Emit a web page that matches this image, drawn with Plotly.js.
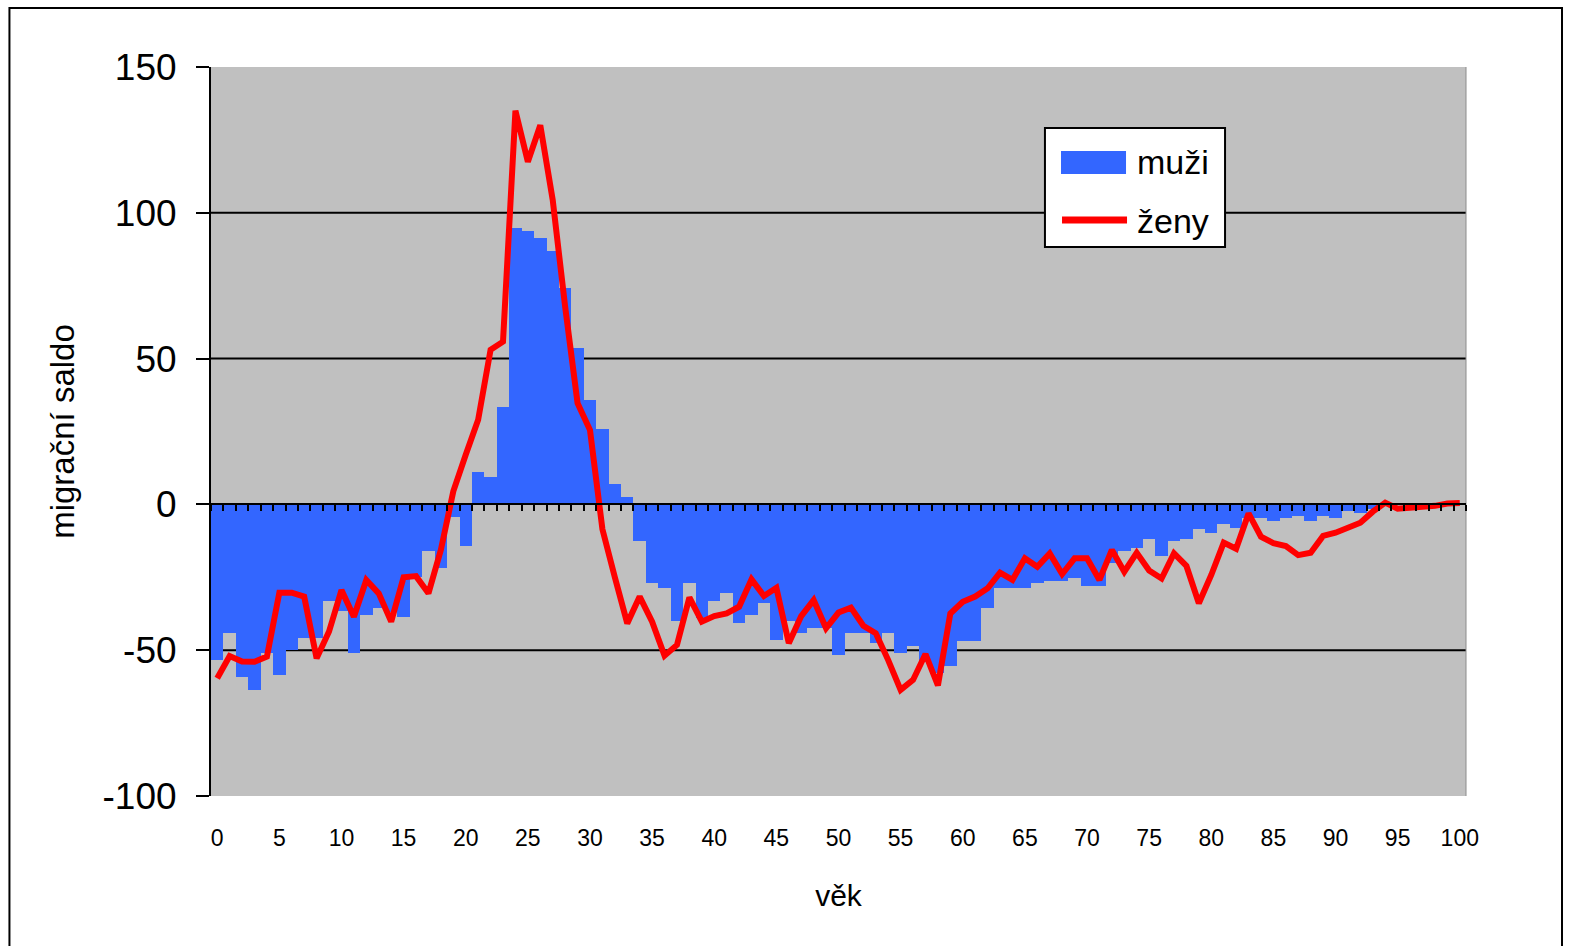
<!DOCTYPE html>
<html>
<head>
<meta charset="utf-8">
<script src="https://cdn.plot.ly/plotly-3.0.1.min.js"></script>
<style>
html,body{margin:0;padding:0;background:#fff;overflow:hidden;}
#chart{width:1571px;height:946px;}
</style>
</head>
<body>
<div id="chart"></div>
<script>
// ages 0..100
const ages = Array.from({length: 101}, (_, i) => i);

// muži (bars)
const muzi = [
  -53.4, -44.2, -59.3, -63.5, -51.1, -58.5, -49.9, -45.9, -45.9, -33.0,
  -36.4, -51.1, -37.9, -35.6, -37.0, -38.7, -24.8, -16.0, -21.9, -4.2,
  -14.2, 11.0, 9.5, 33.3, 94.7, 93.8, 91.3, 87.0, 74.1, 53.7,
  35.8, 25.7, 6.9, 2.6, -12.6, -27.1, -28.8, -39.9, -27.1, -39.0,
  -33.0, -30.5, -40.6, -37.9, -33.9, -46.5, -40.0, -44.0, -42.5, -42.5,
  -51.6, -44.0, -44.0, -47.4, -44.2, -50.8, -48.5, -54.0, -57.7, -55.4,
  -46.7, -46.7, -35.6, -28.8, -28.8, -28.8, -27.1, -26.2, -26.2, -25.4,
  -27.9, -27.9, -20.0, -16.1, -15.1, -11.9, -17.7, -12.6, -11.9, -8.4,
  -9.9, -6.8, -8.2, -4.8, -4.8, -5.6, -4.8, -4.0, -5.6, -4.0,
  -4.8, -2.3, -3.0, -1.5, -0.5, -0.3, 0, 0, 0, 0,
  0
];

// ženy (line)
const zeny = [
  -59.6, -52.0, -53.9, -54.0, -52.2, -30.3, -30.3, -31.6, -52.8, -43.6,
  -29.4, -38.5, -25.9, -30.5, -40.2, -25.0, -24.6, -30.5, -15.6, 4.5,
  17.0, 29.0, 53.0, 55.8, 135.0, 117.5, 130.0, 104.4, 67.8, 34.7,
  25.5, -8.5, -25.0, -40.8, -31.6, -40.2, -51.9, -48.2, -31.9, -40.2,
  -38.3, -37.4, -35.1, -25.7, -31.4, -28.6, -47.6, -38.3, -32.8, -42.5,
  -37.1, -35.4, -41.6, -44.2, -53.4, -63.6, -60.2, -51.3, -62.1, -37.4,
  -33.4, -31.6, -28.8, -23.4, -25.9, -18.5, -21.4, -16.8, -23.9, -18.5,
  -18.5, -25.9, -15.6, -23.1, -16.6, -22.7, -25.4, -16.8, -21.1, -33.9,
  -24.2, -13.1, -15.2, -3.1, -11.1, -13.3, -14.3, -17.4, -16.6, -10.8,
  -9.7, -8.0, -6.3, -2.5, 0.6, -1.5, -1.3, -0.8, -0.5, 0.3,
  0.5
];

const xTickVals = [0,5,10,15,20,25,30,35,40,45,50,55,60,65,70,75,80,85,90,95,100];
const xTickText = xTickVals.map(String);
const yTickVals = [-100,-50,0,50,100,150];
const yTickText = yTickVals.map(String);
const gridVals = [-50, 50, 100];
const seriesNames = ['muži', 'ženy'];

const FONT = 'Liberation Sans, Arial, sans-serif';

const traces = [
  {
    type: 'bar', x: ages, y: muzi, name: seriesNames[0],
    width: 1, marker: {color: '#3366FF', line: {width: 0}},
    showlegend: false, hoverinfo: 'x+y'
  },
  {
    type: 'scatter', mode: 'lines', x: ages, y: zeny, name: seriesNames[1],
    line: {color: '#FF0000', width: 6},
    showlegend: false
  },
  {
    // carrier for the labelled bottom axis (draws nothing)
    type: 'scatter', mode: 'markers', x: xTickVals, y: xTickVals.map(() => null),
    xaxis: 'x2', yaxis: 'y', marker: {opacity: 0}, showlegend: false, hoverinfo: 'skip'
  }
];

const shapes = gridVals.map(v => ({
  type: 'line', xref: 'paper', yref: 'y', x0: 0, x1: 1, y0: v, y1: v,
  line: {color: '#000', width: 2}, layer: 'below'
}));
shapes.push({type: 'line', xref: 'paper', yref: 'paper', x0: 1, x1: 1, y0: 0, y1: 1,
  line: {color: '#8c8c8c', width: 1}, layer: 'below'});
shapes.push({type: 'rect', xref: 'paper', yref: 'paper',
  x0: -0.1606, x1: 1.0765, y0: -0.215, y1: 1.0810,
  line: {color: '#000', width: 2}, fillcolor: 'rgba(0,0,0,0)'});
shapes.push({type: 'rect', xref: 'paper', yref: 'paper',
  x0: 0.6645, x1: 0.8080, y0: 0.7531, y1: 0.9163,
  line: {color: '#000', width: 2}, fillcolor: '#ffffff'});
shapes.push({type: 'rect', xref: 'paper', yref: 'paper',
  x0: 0.6773, x1: 0.7291, y0: 0.8532, y1: 0.8848,
  line: {width: 0}, fillcolor: '#3366FF'});
shapes.push({type: 'line', xref: 'paper', yref: 'paper',
  x0: 0.6781, x1: 0.7299, y0: 0.7900, y1: 0.7900,
  line: {color: '#FF0000', width: 7}});

const annotations = [
  {xref: 'paper', yref: 'paper', x: 0.7370, y: 0.8690, xanchor: 'left', yanchor: 'middle',
   text: seriesNames[0], showarrow: false, borderpad: 0,
   font: {family: FONT, size: 34, color: '#000'}},
  {xref: 'paper', yref: 'paper', x: 0.7370, y: 0.7885, xanchor: 'left', yanchor: 'middle',
   text: seriesNames[1], showarrow: false, borderpad: 0,
   font: {family: FONT, size: 34, color: '#000'}}
];

const layout = {
  width: 1571, height: 946,
  margin: {l: 211, r: 105, t: 67, b: 150, pad: 0},
  paper_bgcolor: '#ffffff',
  plot_bgcolor: '#C0C0C0',
  bargap: 0,
  font: {family: FONT, color: '#000'},
  xaxis: {
    type: 'linear', range: [-0.5, 100.5],
    anchor: 'free', position: 0.4,
    showline: true, linecolor: '#000', linewidth: 2,
    ticks: 'outside', tickmode: 'linear', tick0: 0.5, dtick: 1,
    ticklen: 6, tickwidth: 2, tickcolor: '#000',
    showticklabels: false, showgrid: false, zeroline: false, fixedrange: true
  },
  xaxis2: {
    overlaying: 'x', anchor: 'y', side: 'bottom',
    type: 'linear', range: [-0.5, 100.5],
    tickmode: 'array', tickvals: xTickVals, ticktext: xTickText,
    ticks: 'outside', ticklen: 21, tickcolor: 'rgba(0,0,0,0)',
    showline: false, showgrid: false, zeroline: false,
    tickfont: {family: FONT, size: 23, color: '#000'},
    title: {text: 'věk', font: {family: FONT, size: 30, color: '#000'}, standoff: 35}
  },
  yaxis: {
    range: [-100, 150],
    tickmode: 'array', tickvals: yTickVals, ticktext: yTickText,
    ticks: 'outside', ticklen: 13, tickwidth: 2, tickcolor: '#000',
    ticklabelstandoff: 12,
    showline: true, linecolor: '#000', linewidth: 2,
    showgrid: false, zeroline: false,
    tickfont: {family: FONT, size: 37, color: '#000'},
    title: {text: 'migrační saldo', font: {family: FONT, size: 33, color: '#000'}, standoff: 18}
  },
  shapes: shapes,
  annotations: annotations,
  showlegend: false
};

Plotly.newPlot('chart', traces, layout, {displayModeBar: false, staticPlot: true});
</script>
</body>
</html>
